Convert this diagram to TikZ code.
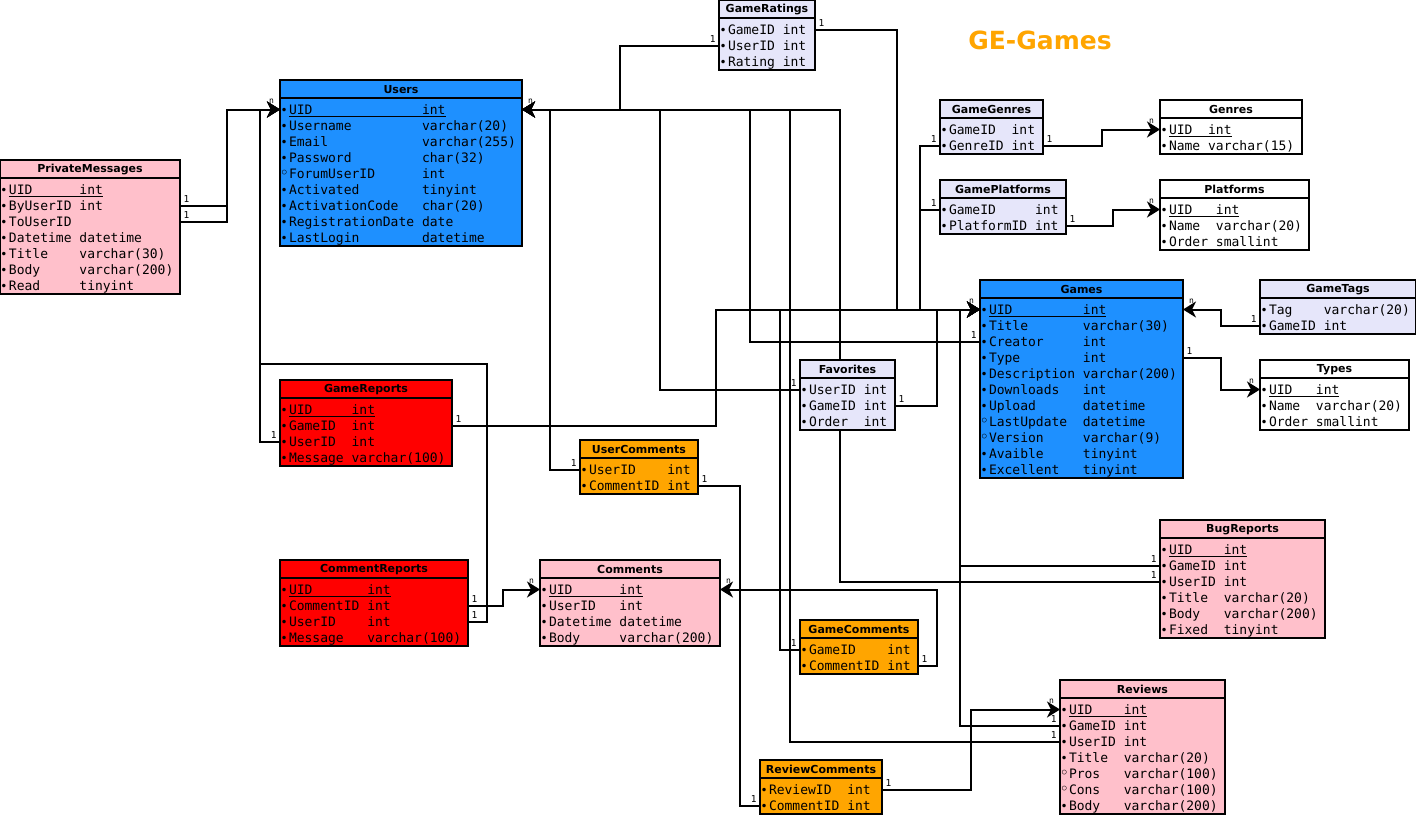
\documentclass[tikz,border=0pt]{standalone}
\usepackage{fontspec}
\usepackage{tikz}
\usetikzlibrary{arrows.meta,backgrounds}
\newfontfamily\monofont{DejaVu Sans Mono}
\newfontfamily\headfont{DejaVu Sans}
\definecolor{lav}{HTML}{E6E6FA}
\definecolor{ublue}{HTML}{1E90FF}
\definecolor{pinkish}{HTML}{FFC0CB}
\definecolor{orng}{HTML}{FFA500}
\newlength\monowd
\setlength\monowd{7.827pt}
\newcommand{\markdot}{\makebox[9pt][l]{\hspace{0.5pt}\headfont\fontsize{12}{12}\selectfont •}}
\newcommand{\markring}{\makebox[9pt][l]{\hspace{-0.5pt}\raisebox{-0.5pt}{\headfont\fontsize{16}{16}\selectfont ◦}}}
\newcommand{\markp}[3]{\markdot\underline{\makebox[#1][l]{#2}#3}}
\newcommand{\markb}[3]{\markdot\makebox[#1][l]{#2}#3}
\newcommand{\marko}[3]{\markring\makebox[#1][l]{#2}#3}
\newcommand{\ertable}[8]{%
        \draw[tbl,fill=#6] (#2,#3) rectangle ++(#4,22+16*#7);
        \draw[tbl] (#2,#3+18) -- ++(#4,0);
        \node[hdr] (#1) at (#2+#4/2,#3+9.5) {#1};
        \foreach \cmark/\cname/\ctype [count=\i] in {#8}
            \node[field] (#1-\i) at (#2,#3+13.5+16*\i) {\makebox[#4pt][l]{\csname mark\cmark\endcsname{#5\monowd}{\cname}{\ctype}}};
}
\tikzset{
    tbl/.style={draw=black, line width=2.2pt},
    hdr/.style={font=\headfont\bfseries\fontsize{11}{13}\selectfont, inner sep=0pt},
    field/.style={anchor=west, inner sep=0pt, outer sep=0pt, text height=9.5pt, text depth=0pt, font=\monofont\fontsize{13}{15}\selectfont},
    link/.style={line width=2pt},
    arr/.style={-{Stealth[length=13pt,width=16pt,inset=4pt]}},
    oner/.style={font=\monofont\fontsize{9.5}{10}\selectfont, anchor=south west, inner sep=2.5pt},
    onel/.style={font=\monofont\fontsize{9.5}{10}\selectfont, anchor=south east, inner sep=2.5pt},
    nl/.style={font=\monofont\fontsize{8}{8}\selectfont, anchor=south east, inner sep=1pt, xshift=-4pt, yshift=4pt},
    nr/.style={font=\monofont\fontsize{8}{8}\selectfont, anchor=south west, inner sep=1pt, xshift=4pt, yshift=4pt}
}
\begin{document}
\begin{tikzpicture}[x=1pt,y=-1pt]
        \useasboundingbox (0,0) rectangle (1416,814);
        \ertable{GameRatings}{719}{0}{96}{7}{lav}{3}{b/GameID/int, b/UserID/int, b/Rating/int}
        \ertable{Users}{280}{80}{242}{17}{ublue}{9}{p/UID/int, b/Username/varchar(20), b/Email/varchar(255), b/Password/char(32), o/ForumUserID/int, b/Activated/tinyint, b/ActivationCode/char(20), b/RegistrationDate/date, b/LastLogin/datetime}
        \ertable{PrivateMessages}{0}{160}{180}{9}{pinkish}{7}{p/UID/int, b/ByUserID/int, b/ToUserID/{}, b/Datetime/datetime, b/Title/varchar(30), b/Body/varchar(200), b/Read/tinyint}
        \ertable{GameGenres}{940}{100}{103}{8}{lav}{2}{b/GameID/int, b/GenreID/int}
        \ertable{Genres}{1160}{100}{142}{5}{white}{2}{p/UID/int, b/Name/varchar(15)}
        \ertable{GamePlatforms}{940}{180}{126}{11}{lav}{2}{b/GameID/int, b/PlatformID/int}
        \ertable{Platforms}{1160}{180}{149}{6}{white}{3}{p/UID/int, b/Name/varchar(20), b/Order/smallint}
        \ertable{Games}{980}{280}{203}{12}{ublue}{11}{p/UID/int, b/Title/varchar(30), b/Creator/int, b/Type/int, b/Description/varchar(200), b/Downloads/int, b/Upload/datetime, o/LastUpdate/datetime, o/Version/varchar(9), b/Avaible/tinyint, b/Excellent/tinyint}
        \ertable{GameTags}{1260}{280}{156}{7}{lav}{2}{b/Tag/varchar(20), b/GameID/int}
        \ertable{Types}{1260}{360}{149}{6}{white}{3}{p/UID/int, b/Name/varchar(20), b/Order/smallint}
        \ertable{Favorites}{800}{360}{95}{7}{lav}{3}{b/UserID/int, b/GameID/int, b/Order/int}
        \ertable{GameReports}{280}{380}{172}{8}{red}{4}{p/UID/int, b/GameID/int, b/UserID/int, b/Message/varchar(100)}
        \ertable{UserComments}{580}{440}{118}{10}{orng}{2}{b/UserID/int, b/CommentID/int}
        \ertable{CommentReports}{280}{560}{188}{10}{red}{4}{p/UID/int, b/CommentID/int, b/UserID/int, b/Message/varchar(100)}
        \ertable{Comments}{540}{560}{180}{9}{pinkish}{4}{p/UID/int, b/UserID/int, b/Datetime/datetime, b/Body/varchar(200)}
        \ertable{GameComments}{800}{620}{118}{10}{orng}{2}{b/GameID/int, b/CommentID/int}
        \ertable{BugReports}{1160}{520}{165}{7}{pinkish}{6}{p/UID/int, b/GameID/int, b/UserID/int, b/Title/varchar(20), b/Body/varchar(200), b/Fixed/tinyint}
        \ertable{Reviews}{1060}{680}{165}{7}{pinkish}{7}{p/UID/int, b/GameID/int, b/UserID/int, b/Title/varchar(20), o/Pros/varchar(100), o/Cons/varchar(100), b/Body/varchar(200)}
        \ertable{ReviewComments}{760}{760}{122}{10}{orng}{2}{b/ReviewID/int, b/CommentID/int}
        \node[font=\headfont\bfseries\fontsize{25}{30}\selectfont, text=orng] (title) at (1040,40) {GE-Games};
        \begin{scope}[on background layer]
        \draw[link,arr] (PrivateMessages-2.east) node[oner] (c1) {1} -- ++(47,0) |- (Users-1.west) node[nl] (n1) {n};
        \draw[link,arr] (PrivateMessages-3.east) node[oner] (c2) {1} -- ++(47,0) |- (Users-1.west);
        \draw[link,arr] (GameReports-3.west) node[onel] (c3) {1} -- ++(-20,0) |- (Users-1.west);
        \draw[link,arr] (CommentReports-3.east) node[oner] (c4) {1} -- ++(19,0) |- (260,364) |- (Users-1.west);
        \draw[link,arr] (GameRatings-2.west) node[onel] (c5) {1} -- ++(-99,0) |- (Users-1.east) node[nr] (n2) {n};
        \draw[link,arr] (UserComments-1.west) node[onel] (c6) {1} -- ++(-30,0) |- (Users-1.east);
        \draw[link,arr] (Favorites-1.west) node[onel] (c7) {1} -- ++(-140,0) |- (Users-1.east);
        \draw[link,arr] (Games-3.west) node[onel] (c8) {1} -- ++(-230,0) |- (Users-1.east);
        \draw[link,arr] (Reviews-3.west) node[onel] (c9) {1} -- ++(-270,0) |- (Users-1.east);
        \draw[link,arr] (BugReports-3.west) node[onel] (c10) {1} -- ++(-320,0) |- (Users-1.east);
        \draw[link,arr] (GameReports-2.east) node[oner] (c11) {1} -- ++(264,0) |- (Games-1.west) node[nl] (n3) {n};
        \draw[link,arr] (GameComments-1.west) node[onel] (c12) {1} -- ++(-20,0) |- (Games-1.west);
        \draw[link,arr] (GameRatings-1.east) node[oner] (c13) {1} -- ++(82,0) |- (Games-1.west);
        \draw[link,arr] (GameGenres-2.west) node[onel] (c14) {1} -- ++(-20,0) |- (Games-1.west);
        \draw[link,arr] (GamePlatforms-1.west) node[onel] (c15) {1} -- ++(-20,0) |- (Games-1.west);
        \draw[link,arr] (Favorites-2.east) node[oner] (c16) {1} -- ++(42,0) |- (Games-1.west);
        \draw[link,arr] (BugReports-2.west) node[onel] (c17) {1} -- ++(-200,0) |- (Games-1.west);
        \draw[link,arr] (Reviews-2.west) node[onel] (c18) {1} -- ++(-100,0) |- (Games-1.west);
        \draw[link,arr] (GameTags-2.west) node[onel] (c19) {1} -- ++(-39,0) |- (Games-1.east) node[nr] (n4) {n};
        \draw[link,arr] (Games-4.east) node[oner] (c20) {1} -- ++(38,0) |- (Types-1.west) node[nl] (n5) {n};
        \draw[link,arr] (GameGenres-2.east) node[oner] (c21) {1} -- ++(59,0) |- (Genres-1.west) node[nl] (n6) {n};
        \draw[link,arr] (GamePlatforms-2.east) node[oner] (c22) {1} -- ++(47,0) |- (Platforms-1.west) node[nl] (n7) {n};
        \draw[link,arr] (CommentReports-2.east) node[oner] (c23) {1} -- ++(35,0) |- (Comments-1.west) node[nl] (n8) {n};
        \draw[link,arr] (GameComments-2.east) node[oner] (c24) {1} -- ++(19,0) |- (Comments-1.east) node[nr] (n9) {n};
        \draw[link] (UserComments-2.east) node[oner] (c25) {1} -- ++(42,0) |- (ReviewComments-2.west) node[onel] (c26) {1};
        \draw[link,arr] (ReviewComments-1.east) node[oner] (c27) {1} -- ++(89,0) |- (Reviews-1.west) node[nl] (n10) {n};
        \end{scope}
\end{tikzpicture}
\end{document}
